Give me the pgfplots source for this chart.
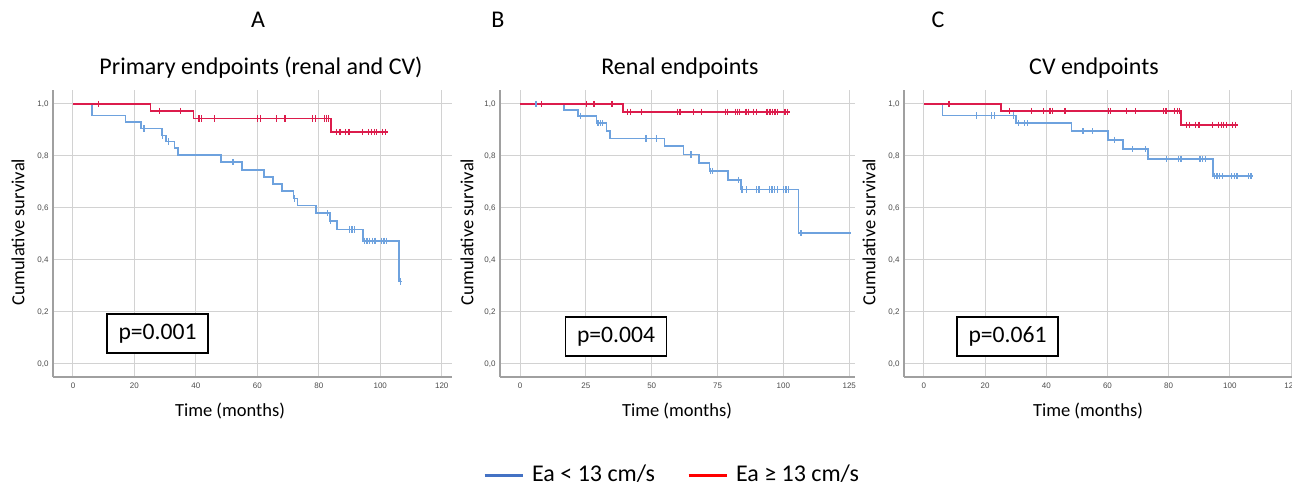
\documentclass[border=0pt]{standalone}
\usepackage{pgfplots}
\pgfplotsset{compat=1.18}
\usepackage{fontspec}
\setmainfont{Carlito}
\newfontfamily\tickfont{Liberation Sans}

\definecolor{kmblue}{RGB}{110,162,222}
\definecolor{kmred}{RGB}{220,28,76}
\definecolor{legblue}{RGB}{68,114,196}
\definecolor{legred}{RGB}{255,0,0}
\definecolor{gridgray}{RGB}{210,210,210}
\definecolor{axgray}{RGB}{160,160,160}

% pixel position of the reference (1292x486) -> picture coordinates
\newcommand\pxy[2]{({(#1)*0.5pt},{(486-(#2))*0.5pt})}

\pgfplotsset{
  kmaxis/.style={
    y=130pt, ymin=-0.05, ymax=1.054,
    axis x line*=bottom, axis y line*=left,
    axis line style={axgray, line width=0.75pt, -},
    grid=major, grid style={gridgray, line width=0.5pt},
    major tick length=0pt,
    ytick={0,0.2,0.4,0.6,0.8,1},
    yticklabels={{0,0},{0,2},{0,4},{0,6},{0,8},{1,0}},
    tick label style={font=\tickfont\fontsize{4}{5}\selectfont, text=black!70},
    yticklabel style={inner sep=0pt, xshift=-2pt},
    xticklabel style={inner sep=0pt, yshift=-3pt},
    anchor=south west,
  },
  surv/.style={const plot, line width=0.8pt, no marks},
  cens/.style={only marks, mark=|, mark size=1.6pt, mark options={line width=0.6pt}},
  legend image code/.code={\draw[line width=1.5pt,#1] (0pt,0pt) -- (19pt,0pt);},
}

\begin{document}
\begin{tikzpicture}
\useasboundingbox (0,0) rectangle (646pt,243pt);

% ---------------- A: primary endpoints
\begin{axis}[kmaxis, at={(26.5pt,54.5pt)}, x=1.5365pt, xmin=-6.5, xmax=123.3,
  xtick={0,20,40,60,80,100,120}, xticklabels={0,20,40,60,80,100,120}]
\addplot[surv, kmblue] coordinates {(0,1)(6.1,0.955)(17.1,0.930)(22.1,0.906)(28.9,0.879)
  (30.2,0.855)(33.1,0.830)(34.1,0.803)(48.2,0.777)(55.1,0.747)(62.1,0.720)(65,0.692)
  (68,0.665)(71.7,0.637)(73,0.609)(79.1,0.580)(83.6,0.549)(86,0.518)(94.3,0.474)
  (106.1,0.318)(107,0.318)};
\addplot[cens, kmblue] coordinates {(23.1,0.906)(29.2,0.879)(31,0.855)(52.1,0.777)
  (72.2,0.637)(82.9,0.580)(83.9,0.549)(89.9,0.518)(90.8,0.518)(91.7,0.518)
  (94.8,0.474)(95.7,0.474)(96.6,0.474)(97.4,0.474)(98.3,0.474)(100.3,0.474)
  (101.2,0.474)(102.1,0.474)(106.7,0.318)};
\addplot[surv, kmred] coordinates {(0,1)(25.2,0.973)(39.2,0.944)(84,0.892)(102.4,0.892)};
\addplot[cens, kmred] coordinates {(8.2,1)(28.2,0.973)(35.1,0.973)
  (41,0.944)(41.9,0.944)(46.1,0.944)(60.1,0.944)(61.1,0.944)(66.1,0.944)(69,0.944)
  (78,0.944)(79,0.944)(81.8,0.944)(82.6,0.944)(83.2,0.944)
  (85.8,0.892)(86.9,0.892)(88.7,0.892)(89.8,0.892)(94.1,0.892)(96.1,0.892)
  (97.1,0.892)(98,0.892)(98.9,0.892)(100.8,0.892)(101.6,0.892)};
\end{axis}

% ---------------- B: renal endpoints
\begin{axis}[kmaxis, at={(250pt,54.5pt)}, x=1.317pt, xmin=-7.6, xmax=127.3,
  xtick={0,25,50,75,100,125}, xticklabels={0,25,50,75,100,125},
  legend columns=2,
  legend style={draw=none, fill=none, at={(rel axis cs:0.487,-0.3415)}, anchor=center,
    font=\fontsize{12}{14}\selectfont,
    /tikz/every odd column/.append style={column sep=2pt},
    /tikz/every even column/.append style={column sep=14pt}},
  legend cell align=left]
\addlegendimage{legblue}
\addlegendentry{Ea < 13 cm/s}
\addlegendimage{legred}
\addlegendentry{Ea ≥ 13 cm/s}
\addplot[surv, kmblue, forget plot] coordinates {(0,1)(16.8,0.976)(22.1,0.954)(29.1,0.926)
  (32.9,0.896)(34.2,0.867)(54.8,0.838)(62,0.805)(68,0.774)(71.9,0.742)(79,0.708)
  (83.9,0.671)(105.7,0.503)(125.5,0.503)};
\addplot[cens, kmblue, forget plot] coordinates {(6.1,1)(22.9,0.954)(29.6,0.926)(30.5,0.926)
  (31.4,0.926)(47.8,0.867)(51.9,0.867)(64.9,0.805)(72.2,0.742)(73,0.742)(82.9,0.708)
  (84.3,0.671)(85.9,0.671)(89.7,0.671)(90.7,0.671)(94.6,0.671)(95.7,0.671)(96.7,0.671)
  (97.7,0.671)(100,0.671)(101,0.671)(102,0.671)(106.7,0.503)};
\addplot[surv, kmred, forget plot] coordinates {(0,1)(39,0.970)(102.5,0.970)};
\addplot[cens, kmred, forget plot] coordinates {(8.1,1)(25.1,1)(28.1,1)(34.9,1)
  (40.9,0.97)(41.9,0.97)(46,0.97)(59.7,0.97)(60.7,0.97)(65.8,0.97)(68.8,0.97)
  (77.9,0.97)(78.8,0.97)(81.8,0.97)(82.6,0.97)(83.4,0.97)(85.8,0.97)(86.7,0.97)
  (88.7,0.97)(89.7,0.97)(93.8,0.97)(94.9,0.97)(95.9,0.97)(96.8,0.97)(97.8,0.97)
  (100.6,0.97)(101.6,0.97)};
\end{axis}

% ---------------- C: CV endpoints
\begin{axis}[kmaxis, at={(452pt,54.5pt)}, x=1.53pt, xmin=-6.5, xmax=122,
  xtick={0,20,40,60,80,100,120}, xticklabels={0,20,40,60,80,100,120}]
\addplot[surv, kmblue] coordinates {(0,1)(6.1,0.955)(30.1,0.926)(48.3,0.895)(60.2,0.862)
  (65.1,0.827)(73.2,0.788)(94.5,0.722)(107.6,0.722)};
\addplot[cens, kmblue] coordinates {(17.2,0.955)(22.1,0.955)(23,0.955)(29.3,0.955)
  (31,0.926)(33,0.926)(33.9,0.926)(52,0.895)(55.1,0.895)(62.2,0.862)(68.1,0.827)
  (72.4,0.827)(79.3,0.788)(83.1,0.788)(84,0.788)(90.2,0.788)(91.1,0.788)(92.1,0.788)
  (94.9,0.722)(95.8,0.722)(96.7,0.722)(97.6,0.722)(100.5,0.722)(101.4,0.722)
  (102.3,0.722)(106.1,0.722)(106.9,0.722)};
\addplot[surv, kmred] coordinates {(0,1)(25.2,0.973)(84,0.920)(102.7,0.920)};
\addplot[cens, kmred] coordinates {(8.2,1)(28.1,0.973)(35.2,0.973)(39.2,0.973)
  (41.2,0.973)(42,0.973)(46.1,0.973)(60.2,0.973)(61.1,0.973)(66.2,0.973)(69.2,0.973)
  (78.2,0.973)(79.1,0.973)(82,0.973)(82.9,0.973)(83.4,0.973)
  (85.8,0.92)(86.9,0.92)(88.8,0.92)(89.9,0.92)(94.2,0.92)(96.2,0.92)(97.2,0.92)
  (98,0.92)(98.9,0.92)(100.9,0.92)(101.8,0.92)};
\end{axis}

% titles
\begin{scope}[every node/.style={font=\fontsize{12}{14}\selectfont}]
\node at \pxy{258}{20} {A};
\node at \pxy{498}{20} {B};
\node at \pxy{938}{20} {C};
\node at \pxy{261}{68} {Primary endpoints (renal and CV)};
\node at \pxy{680}{68} {Renal endpoints};
\node at \pxy{1094}{68} {CV endpoints};
\end{scope}

% axis labels
\begin{scope}[every node/.style={font=\fontsize{9.25}{11}\selectfont}]
\node[rotate=90] at \pxy{18}{232} {Cumulative survival};
\node[rotate=90] at \pxy{467}{232} {Cumulative survival};
\node[rotate=90] at \pxy{869}{232} {Cumulative survival};
\node at \pxy{230}{411} {Time (months)};
\node at \pxy{677}{411} {Time (months)};
\node at \pxy{1088}{411} {Time (months)};
\end{scope}

% p-values
\begin{scope}[every node/.style={draw=black, line width=0.6pt, fill=white,
    minimum width=50.5pt, minimum height=19.5pt, inner sep=0pt,
    font=\fontsize{11.8}{13}\selectfont}]
\node at \pxy{157.5}{333.5} {p=0.001};
\node at \pxy{616}{336.5} {p=0.004};
\node at \pxy{1007.5}{336.5} {p=0.061};
\end{scope}
\end{tikzpicture}
\end{document}
